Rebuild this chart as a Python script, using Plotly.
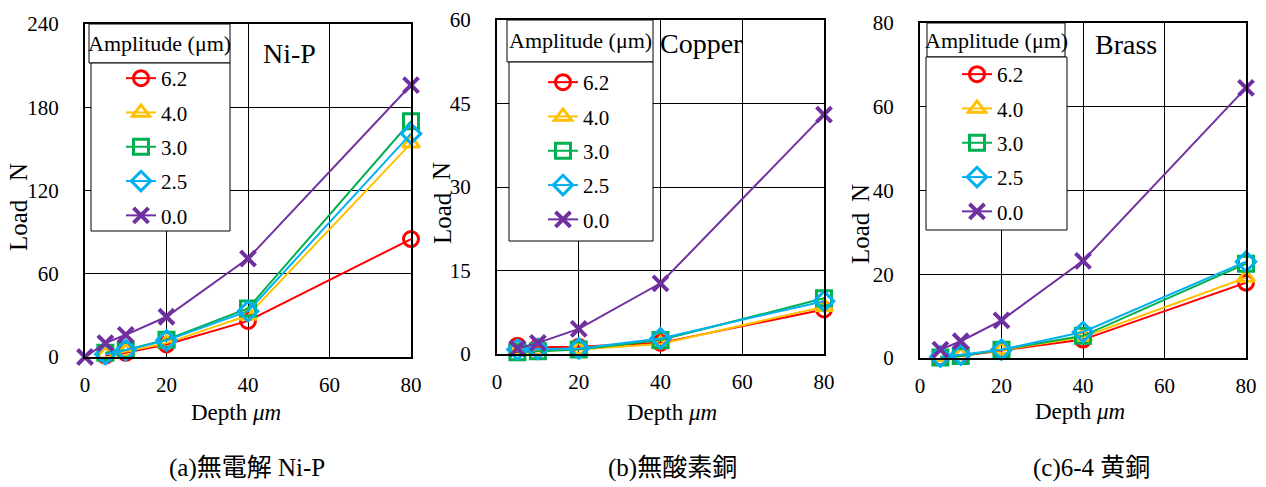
import plotly.graph_objects as go

W, H = 1266, 487

# ---------------- data ----------------
depth = [5, 10, 20, 40, 80]
depth_nip0 = [0, 5, 10, 20, 40, 80]
amplitudes = ["6.2", "4.0", "3.0", "2.5", "0.0"]

nip_62 = [1, 3, 9, 26, 85]
nip_40 = [2, 4, 10, 30, 154]
nip_30 = [3, 5, 12.5, 35, 170]
nip_25 = [2, 5, 12, 33, 161]
nip_00 = [0, 10, 16, 29, 71, 196]

cu_62 = [1.5, 1.2, 1.3, 2.0, 8.0]
cu_40 = [0.6, 0.6, 0.8, 1.8, 8.5]
cu_30 = [0.3, 0.5, 0.8, 2.5, 10.0]
cu_25 = [0.8, 0.9, 1.0, 2.8, 9.5]
cu_00 = [1.0, 2.0, 4.5, 12.7, 43.0]

br_62 = [0.2, 0.5, 1.8, 4.4, 18.0]
br_40 = [0.3, 0.6, 1.9, 5.0, 19.2]
br_30 = [0.1, 0.5, 2.0, 5.3, 22.5]
br_25 = [0.3, 0.8, 2.0, 6.2, 23.0]
br_00 = [2.0, 4.0, 9.0, 23.2, 64.5]

x_ticks = [0, 20, 40, 60, 80]
y_ticks_nip = [0, 60, 120, 180, 240]
y_ticks_cu = [0, 15, 30, 45, 60]
y_ticks_br = [0, 20, 40, 60, 80]

panel_labels = ["Ni-P", "Copper", "Brass"]
captions = ["(a)無電解 Ni-P", "(b)無酸素銅", "(c)6-4 黄銅"]
legend_title = "Amplitude (μm)"
x_title = "Depth <i>μm</i>"
y_title_word = "Load"
y_title_unit = "N"

# ---------------- styles ----------------
colors = ["#FF0000", "#FFC000", "#00B050", "#00B0F0", "#7030A0"]
symbols = ["circle-open", "triangle-up-open", "square-open", "diamond-open", "x-thin"]
msizes = [15, 15, 15, 15, 15]
mlw = [3, 3, 3, 3, 4]
FONT = "Liberation Serif, 'Noto Sans CJK JP', serif"

def px(x):
    return x / W

def py(y):
    return 1 - y / H

panels = [
    dict(x=(85, 411), y=(24, 357), yr=240, yt=y_ticks_nip,
         series=[(depth, nip_62), (depth, nip_40), (depth, nip_30), (depth, nip_25), (depth_nip0, nip_00)],
         title_box=(89, 24, 230, 63), leg_box=(91, 63, 230, 231), leg_xy=(121, 58),
         label_xy=(289, 53), ytitle_x=18, load_y=225, n_y=172, xtitle_xy=(236, 412), cap_x=247),
    dict(x=(497, 824), y=(20, 354), yr=60, yt=y_ticks_cu,
         series=[(depth, cu_62), (depth, cu_40), (depth, cu_30), (depth, cu_25), (depth, cu_00)],
         title_box=(507, 20, 653, 62), leg_box=(509, 62, 653, 241), leg_xy=(543, 62),
         label_xy=(701, 43), ytitle_x=442, load_y=218, n_y=171, xtitle_xy=(672, 412), cap_x=672),
    dict(x=(920, 1246), y=(23, 358), yr=80, yt=y_ticks_br,
         series=[(depth, br_62), (depth, br_40), (depth, br_30), (depth, br_25), (depth, br_00)],
         title_box=(927, 23, 1065, 57), leg_box=(926, 57, 1067, 230), leg_xy=(957, 54),
         label_xy=(1126, 45), ytitle_x=860, load_y=238, n_y=193, xtitle_xy=(1080, 411), cap_x=1091),
]

fig = go.Figure()
shapes = []
annotations = []
layout = dict(
    template="none",
    width=W, height=H, autosize=False,
    margin=dict(l=0, r=0, t=0, b=0, pad=0, autoexpand=False),
    paper_bgcolor="white", plot_bgcolor="white",
    font=dict(family=FONT, color="black", size=20),
    showlegend=True,
)


def note(text, x, y, size, **kw):
    return dict(text=text, xref="paper", yref="paper", x=px(x), y=py(y),
                xanchor="center", yanchor="middle", showarrow=False,
                font=dict(size=size, family=FONT, color="black"), **kw)


for i, p in enumerate(panels):
    k = "" if i == 0 else str(i + 1)
    legname = "legend" + k
    for j, (xs, ys) in enumerate(p["series"]):
        fig.add_trace(go.Scatter(
            x=xs, y=ys, mode="lines+markers", name=amplitudes[j],
            xaxis="x" + k, yaxis="y" + k, legend=legname,
            legendgroup=f"p{i}_{j}",
            cliponaxis=False,
            line=dict(color=colors[j], width=2),
            marker=dict(symbol=symbols[j], size=msizes[j], color=colors[j],
                        line=dict(color=colors[j], width=mlw[j])),
        ))
    layout["xaxis" + k] = dict(
        domain=[px(p["x"][0]), px(p["x"][1])], anchor="y" + k,
        range=[0, 80], tickvals=x_ticks, ticks="", showgrid=True,
        gridcolor="black", gridwidth=1, zeroline=False, automargin=False,
        showline=True, mirror=True, linecolor="black", linewidth=2,
        tickfont=dict(size=21, family=FONT), ticklabelstandoff=8,
    )
    layout["yaxis" + k] = dict(
        domain=[py(p["y"][1]), py(p["y"][0])], anchor="x" + k,
        range=[0, p["yr"]], tickvals=p["yt"], ticks="", showgrid=True,
        gridcolor="black", gridwidth=1, zeroline=False, automargin=False,
        showline=True, mirror=True, linecolor="black", linewidth=2,
        tickfont=dict(size=21, family=FONT), ticklabelstandoff=20,
    )
    layout[legname] = dict(
        x=px(p["leg_xy"][0]), y=py(p["leg_xy"][1]), xanchor="left", yanchor="top",
        bgcolor="rgba(0,0,0,0)", borderwidth=0, tracegroupgap=4,
        font=dict(size=21, family=FONT), itemwidth=30,
    )
    for (x0, y0, x1, y1) in (p["title_box"], p["leg_box"]):
        shapes.append(dict(type="rect", xref="paper", yref="paper",
                           x0=px(x0), x1=px(x1), y0=py(y1), y1=py(y0),
                           fillcolor="white", line=dict(color="black", width=1),
                           layer="above"))
    tb = p["title_box"]
    annotations.append(note(legend_title, (tb[0] + tb[2]) / 2, (tb[1] + tb[3]) / 2, 22))
    annotations.append(note(panel_labels[i], p["label_xy"][0], p["label_xy"][1], 28))
    annotations.append(note(y_title_word, p["ytitle_x"], p["load_y"], 25, textangle=-90))
    annotations.append(note(y_title_unit, p["ytitle_x"], p["n_y"], 25, textangle=-90))
    annotations.append(note(x_title, p["xtitle_xy"][0], p["xtitle_xy"][1], 23))
    annotations.append(note(captions[i], p["cap_x"], 468, 25))

layout["shapes"] = shapes
layout["annotations"] = annotations
fig.update_layout(**layout)
fig.write_html("out.html")
